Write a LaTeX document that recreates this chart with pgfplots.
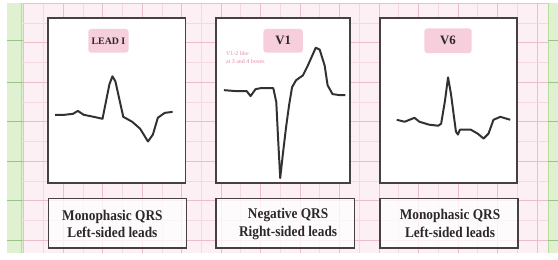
\documentclass[border=0pt]{standalone}
\usepackage{pgfplots}
\pgfplotsset{compat=1.18}
\usepackage{fontspec}
\setmainfont{Liberation Serif}
\definecolor{bgpink}{HTML}{FCF0F5}
\definecolor{gridpink}{HTML}{ECBCCF}
\definecolor{gridpinkminor}{HTML}{F5D8E4}
\definecolor{labelpink}{HTML}{F6CEDC}
\definecolor{edge}{HTML}{444044}
\definecolor{trace}{HTML}{333033}
\definecolor{capt}{HTML}{2A282A}
\definecolor{greenstrip}{HTML}{DFF1D0}
\definecolor{greenline}{HTML}{B5DF9A}
\definecolor{greentick}{HTML}{9CC48A}
\definecolor{textpink}{HTML}{E08AAE}
\begin{document}
\begin{tikzpicture}
\begin{axis}[
  width=558pt, height=253pt, scale only axis,
  xmin=0, xmax=558, ymin=0, ymax=253, y dir=reverse,
  axis line style={draw=none},
  xtick={17,57,...,537}, ytick={0,40,...,240},
  minor x tick num=1, minor y tick num=1,
  grid=both,
  major grid style={gridpink, line width=0.7pt},
  minor grid style={gridpinkminor, line width=0.5pt},
  xticklabels={}, yticklabels={}, tick style={draw=none},
  axis background/.style={fill=bgpink},
  clip=false,
]
% green strips
\fill[greenstrip] (0,0) rectangle (16,253);
\draw[greenline, line width=1.2pt] (15,0) -- (15,253);
\fill[greenstrip] (548,0) rectangle (558,253);
\draw[greenline, line width=1.2pt] (549,0) -- (549,253);
\pgfplotsinvokeforeach{38,80,120,160,200,240}{
  \draw[greentick, line width=0.8pt] (0,#1) -- (16,#1);
  \draw[greentick, line width=0.8pt] (548,#1) -- (558,#1);
}
% panels
\filldraw[fill=white, draw=edge, line width=1.9pt] (42,15) rectangle (181,182);
\filldraw[fill=white, draw=edge, line width=1.9pt] (212,15) rectangle (348,182);
\filldraw[fill=white, draw=edge, line width=1.9pt] (378,15) rectangle (517,182);
% caption boxes
\filldraw[fill=white, fill opacity=0.75, draw=edge, line width=1.3pt] (42,198) rectangle (182,248);
\filldraw[fill=white, fill opacity=0.75, draw=edge, line width=1.3pt] (212,198) rectangle (352,248);
\filldraw[fill=white, fill opacity=0.75, draw=edge, line width=1.3pt] (378,198) rectangle (518,248);
% labels
\node[fill=labelpink, rounded corners=3pt, minimum width=40pt, minimum height=24pt,
      font=\bfseries\fontsize{10}{12}\selectfont, text=capt] at (103,38) {LEAD I};
\node[fill=labelpink, rounded corners=3pt, minimum width=40pt, minimum height=24pt,
      font=\bfseries\fontsize{13}{15}\selectfont, text=capt] at (280,38) {V1};
\node[fill=labelpink, rounded corners=3pt, minimum width=48pt, minimum height=25pt,
      font=\bfseries\fontsize{13}{15}\selectfont, text=capt] at (447,38) {V6};
\node[text=textpink, font=\fontsize{6}{8}\selectfont, align=left, anchor=north west, inner sep=0pt]
  at (222,49) {V1-2 like\\at 3 and 4 boxes};
% captions
\node[font=\bfseries\fontsize{15}{18}\selectfont, xscale=0.9, align=center, text=capt] at (107,223.5)
  {Monophasic QRS\\Left-sided leads};
\node[font=\bfseries\fontsize{15}{18}\selectfont, xscale=0.9, align=center, text=capt] at (285,223.5)
  {Negative QRS\\Right-sided leads};
\node[font=\bfseries\fontsize{15}{18}\selectfont, xscale=0.9, align=center, text=capt] at (449,223)
  {Monophasic QRS\\Left-sided leads};
% Lead I
\addplot[trace, line width=2pt, line join=round] coordinates {
 (49,113) (58,113) (67,112) (72,109) (78,113) (88,115) (97,117) (100,102) (104,82)
 (107,74) (110,79) (114,97) (118,115) (127,120) (135,127) (140,135) (143,140)
 (148,133) (153,116) (160,111) (168,110)};
% V1
\addplot[trace, line width=2pt, line join=round] coordinates {
 (220,88) (233,89) (243,89) (247,94) (252,87) (257,86) (270,86) (273,100) (275,140)
 (277,177) (280,150) (283,125) (286,103) (289,85) (293,78) (300,73) (305,63)
 (313,45) (317,47) (322,63) (325,83) (330,92) (337,93) (343,93)};
% V6
\addplot[trace, line width=2pt, line join=round] coordinates {
 (395,118) (403,120) (413,116) (418,120) (428,123) (437,124) (440,122) (444,98)
 (447,75) (450,92) (453,115) (455,130) (457,133) (459,128) (470,128) (477,132)
 (483,137) (488,132) (493,118) (500,115) (510,118)};
\end{axis}
\end{tikzpicture}
\end{document}
